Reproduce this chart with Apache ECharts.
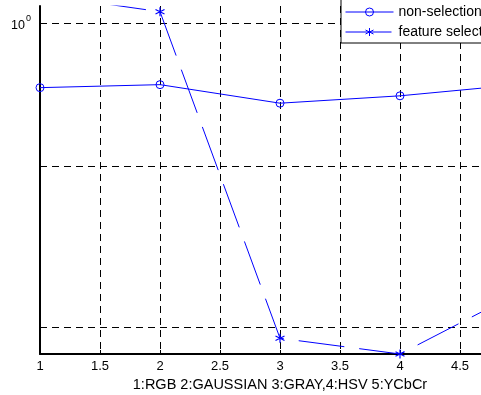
<!DOCTYPE html>
<html>
<head>
<meta charset="utf-8">
<script src="https://cdn.jsdelivr.net/npm/echarts@6/dist/echarts.min.js"></script>
<style>
  html, body { margin: 0; padding: 0; background: #fff; }
  #chart { width: 481px; height: 395px; }
</style>
</head>
<body>
<div id="chart"></div>
<script>
// data (y axis is log scale)
const xValues = [1, 2, 3, 4, 5];
const nonSelection = [0.9537, 0.9558, 0.9429, 0.9480, 0.9559];
const featureSelection = [1.021, 1.0083, 0.7937, 0.7846, 0.821];
const seriesNames = ['non-selection', 'feature selection'];
const yGridValues = [0.8, 0.9, 1.0];
const yLabelValues = [1.0];
const xAxisName = '1:RGB 2:GAUSSIAN 3:GRAY,4:HSV 5:YCbCr';

const chart = echarts.init(document.getElementById('chart'), null, { renderer: 'canvas' });

const font = '"Liberation Sans", Arial, sans-serif';
const blue = '#0000ff';
// asterisk marker like matlab '*'
const star = 'path://M0,-10L0,10M-8.66,-5L8.66,5M-8.66,5L8.66,-5';

function pairs(ys) {
  return xValues.map((x, i) => [x, ys[i]]);
}

const option = {
  animation: false,
  backgroundColor: '#fff',
  textStyle: { fontFamily: font },
  // the original figure is cropped on the right: x=5 sits past the edge
  grid: { left: 40, right: -39, top: 6, bottom: 41, outerBoundsMode: 'none', containLabel: false },
  legend: {
    orient: 'vertical',
    left: 341,
    top: -2,
    padding: [6, 6, 3, 4],
    itemWidth: 48,
    itemHeight: 10,
    itemGap: 4,
    borderColor: '#000',
    borderWidth: 1,
    backgroundColor: '#fff',
    borderRadius: 0,
    lineStyle: { width: 1 },
    itemStyle: { borderWidth: 1 },
    textStyle: { fontFamily: font, fontSize: 14, color: '#000', lineHeight: 16 },
    data: seriesNames
  },
  xAxis: {
    type: 'value',
    min: 1,
    max: 5,
    interval: 0.5,
    name: xAxisName,
    nameLocation: 'middle',
    nameGap: 22,
    nameTextStyle: { fontFamily: font, fontSize: 14.5, color: '#000' },
    axisLine: { onZero: false, lineStyle: { color: '#000', width: 2 } },
    axisTick: { inside: true, length: 4, lineStyle: { color: '#000' } },
    axisLabel: {
      fontFamily: font, fontSize: 13, color: '#000', margin: 6,
      formatter: v => String(v)
    },
    splitLine: { show: true, lineStyle: { color: '#000', width: 1, type: [7, 5] } }
  },
  yAxis: {
    type: 'log',
    min: 0.7846,
    max: 1.0125,
    axisLine: { lineStyle: { color: '#000', width: 2 } },
    axisTick: { inside: true, length: 4, customValues: yGridValues, lineStyle: { color: '#000' } },
    axisLabel: {
      customValues: yLabelValues,
      margin: 9,
      formatter: () => '{b|10}{s|0}',
      rich: {
        b: { fontFamily: font, fontSize: 12.5, color: '#000', padding: [5, 0, 0, 0] },
        s: { fontFamily: font, fontSize: 9, color: '#000', verticalAlign: 'top', padding: [0, 0, 0, 1] }
      }
    },
    splitLine: { show: true, lineStyle: { color: '#000', width: 1, type: [7, 5] } }
  },
  series: [
    {
      name: seriesNames[0],
      type: 'line',
      data: pairs(nonSelection),
      symbol: 'circle',
      symbolSize: 8,
      itemStyle: { color: 'rgba(255,255,255,0)', borderColor: blue, borderWidth: 1 },
      lineStyle: { color: blue, width: 1 }
    },
    {
      name: seriesNames[1],
      type: 'line',
      data: pairs(featureSelection),
      symbol: star,
      symbolSize: 9,
      itemStyle: { color: blue, borderColor: blue, borderWidth: 1.2 },
      lineStyle: { color: blue, width: 1, type: [46, 15] }
    }
  ]
};

chart.setOption(option);
</script>
</body>
</html>
